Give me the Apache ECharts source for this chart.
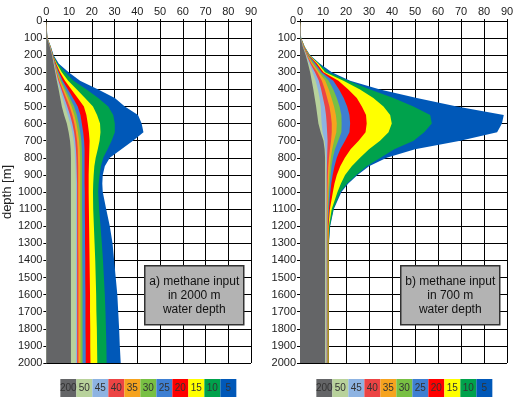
<!DOCTYPE html>
<html>
<head>
<meta charset="utf-8">
<script src="https://cdn.jsdelivr.net/npm/echarts@6/dist/echarts.min.js"></script>
<style>html,body{margin:0;padding:0;background:#fff}#c{width:524px;height:405px}</style>
</head>
<body>
<div id="c"></div>
<script>
// depth levels (m)
const depths = [0,100,150,200,250,300,350,400,450,500,550,600,650,700,750,800,850,900,950,1000,1100,1200,1300,1400,1500,1600,1700,1800,1900,2000];
const xTicks = [0,10,20,30,40,50,60,70,80,90];
const seriesNames = ['200','50','45','40','35','30','25','20','15','10','5'];
const seriesColors = ['#646567','#b8d29b','#8db3e2','#ec4444','#f6a31e','#78c043','#3e7fd2','#ff0000','#ffff00','#00a24c','#0058b8'];

// panel a) methane input in 2000 m water depth
const a200 = [0,0.3,1.5,2.5,3.2,3.9,4.6,5.4,6.1,6.8,7.8,9.0,9.8,10.4,10.7,10.8,10.8,10.8,10.8,10.8,10.8,10.8,10.8,10.8,10.8,10.8,10.8,10.8,10.8,10.8];
const a50  = [0,0.3,1.6,2.6,3.4,4.1,5.0,6.0,7.1,8.2,9.4,10.5,11.4,12.0,12.4,12.6,12.8,12.9,13.0,13.0,13.0,13.0,13.0,13.0,13.0,13.0,13.0,13.0,13.0,13.0];
const a45  = [0,0.3,1.6,2.6,3.5,4.3,5.3,6.6,7.9,9.2,10.4,11.4,12.2,12.7,13.0,13.2,13.3,13.4,13.5,13.5,13.5,13.5,13.5,13.5,13.5,13.5,13.5,13.5,13.5,13.5];
const a40  = [0,0.3,1.7,2.7,3.6,4.5,5.7,7.2,8.7,10.2,11.4,12.3,13.0,13.5,13.8,13.9,14.0,14.0,14.0,14.0,14.0,14.0,14.0,14.1,14.1,14.1,14.1,14.1,14.1,14.1];
const a35  = [0,0.3,1.7,2.7,3.7,4.8,6.1,7.8,9.5,11.1,12.3,13.2,13.9,14.4,14.7,14.8,14.9,14.9,14.9,14.9,14.9,14.9,14.9,15.0,15.0,15.0,15.0,15.0,15.0,15.0];
const a30  = [0,0.3,1.7,2.8,3.8,5.1,6.6,8.5,10.4,12.2,13.4,14.2,14.9,15.4,15.6,15.7,15.7,15.7,15.7,15.7,15.7,15.8,15.8,15.8,15.9,15.9,15.9,15.9,15.9,15.9];
const a25  = [0,0.3,1.8,2.8,4.0,5.5,7.2,9.5,11.7,13.8,15.0,15.6,16.2,16.6,16.8,16.8,16.8,16.8,16.8,16.9,16.9,17.0,17.0,17.1,17.1,17.2,17.2,17.2,17.3,17.3];
const a20  = [0,0.4,1.8,2.9,4.3,6.0,8.2,11.0,13.8,16.5,17.6,18.2,18.7,19.0,18.9,18.8,18.7,18.6,18.6,18.6,18.7,18.8,18.9,19.0,19.1,19.2,19.2,19.3,19.3,19.4];
const a15  = [0,0.4,1.9,2.9,4.6,6.8,9.6,13.4,17.0,20.5,22.3,23.6,23.8,23.4,22.6,21.7,21.1,20.8,20.6,20.5,20.6,20.9,21.2,21.5,21.7,21.9,22.0,22.2,22.3,22.4];
const a10  = [0,0.4,1.9,3.0,5.0,8.3,11.9,17.7,22.8,27.2,29.4,30.1,30.1,28.7,26.9,25.0,24.0,23.4,23.0,22.8,23.2,23.8,24.4,24.9,25.3,25.7,26.0,26.2,26.4,26.5];
const a5   = [0,0.5,2.0,3.2,5.5,9.8,14.8,22.8,30.1,34.5,40.3,41.9,42.7,38.1,33.0,27.9,25.7,24.8,24.6,24.8,26.3,27.9,29.1,29.8,30.5,31.2,31.6,32.0,32.3,32.7];

// panel b) methane input in 700 m water depth
const b200 = [0,0.3,1.2,2.5,3.5,4.4,5.1,5.8,6.4,7.0,7.5,8.0,9.0,10.2,10.7,10.9,10.9,10.9,10.9,10.9,10.9,10.9,10.9,10.9,10.9,10.9,10.9,10.9,10.9,10.9];
const b50  = [0,0.3,1.3,2.7,4.0,5.5,6.8,7.8,8.5,9.0,9.2,9.4,9.8,10.7,11.1,11.3,11.4,11.4,11.4,11.4,11.4,11.4,11.4,11.4,11.4,11.4,11.4,11.4,11.4,11.4];
const b45  = [0,0.3,1.4,2.9,4.5,6.5,8.2,9.2,10.0,10.8,11.3,11.6,11.8,12.0,11.9,11.8,11.7,11.6,11.6,11.6,11.6,11.6,11.6,11.6,11.6,11.6,11.6,11.6,11.6,11.6];
const b40  = [0,0.3,1.5,3.1,5.0,7.5,9.5,10.8,11.8,12.8,13.4,13.8,13.8,13.5,13.0,12.6,12.3,12.1,12.0,11.9,11.8,11.8,11.8,11.8,11.8,11.8,11.8,11.8,11.8,11.8];
const b35  = [0,0.4,1.6,3.3,5.6,8.2,11.0,12.5,13.7,14.8,15.6,16.0,15.8,14.8,14.0,13.4,13.0,12.7,12.5,12.3,12.1,12.0,11.9,11.9,11.9,11.9,11.9,11.9,11.9,11.9];
const b30  = [0,0.4,1.7,3.5,6.2,8.9,12.5,14.5,16.0,17.2,18.0,18.1,18.0,16.6,15.2,14.3,13.7,13.3,13.0,12.7,12.3,12.1,12.0,12.0,12.0,12.0,12.0,12.0,12.0,12.0];
const b25  = [0,0.4,1.8,3.7,6.8,9.5,14.5,17.0,19.0,20.5,21.5,21.8,21.5,19.6,17.5,16.0,15.0,14.2,13.6,13.2,12.6,12.2,12.1,12.1,12.1,12.1,12.1,12.1,12.1,12.1];
const b20  = [0,0.4,1.9,3.9,7.4,10.2,16.7,21.0,24.7,26.9,28.7,29.0,28.5,25.5,22.0,19.5,17.5,16.0,15.0,14.3,13.0,12.4,12.3,12.3,12.3,12.3,12.3,12.3,12.3,12.3];
const b15  = [0,0.4,2.0,4.1,8.0,10.9,18.9,26.1,31.9,36.3,39.2,39.9,38.5,34.8,30.0,26.1,22.5,19.6,17.8,16.3,13.8,12.6,12.4,12.4,12.4,12.4,12.4,12.4,12.4,12.4];
const b10  = [0,0.5,2.0,4.2,8.3,12.3,21.0,30.5,40.6,49.3,56.6,57.3,54.0,49.4,41.0,35.0,29.0,24.5,20.5,17.5,14.5,13.0,12.5,12.5,12.5,12.5,12.5,12.5,12.5,12.5];
const b5   = [0,0.5,2.1,4.4,8.7,13.8,21.8,34.8,50.8,68.2,88.6,87.8,85.7,69.7,50.0,37.7,30.0,25.0,21.0,18.0,14.7,13.1,12.6,12.6,12.6,12.6,12.6,12.6,12.6,12.6];

const panelA = [a200,a50,a45,a40,a35,a30,a25,a20,a15,a10,a5];
const panelB = [b200,b50,b45,b40,b35,b30,b25,b20,b15,b10,b5];
const boxTextA = 'a) methane input\nin 2000 m\nwater depth';
const boxTextB = 'b) methane input\nin 700 m\nwater depth';

const FONT = 'Arial, "Liberation Sans", sans-serif';
const grids = [
  {left: 44, top: 21, width: 207, height: 342, show: false},
  {left: 300, top: 21, width: 207, height: 342, show: false}
];

function makeX(i) {
  return {
    gridIndex: i, type: 'value', position: 'top', min: 0, max: 90, interval: 10,
    axisLine: {show: true, onZero: false, lineStyle: {color: '#000', width: 1}},
    axisTick: {show: true, length: 2, lineStyle: {color: '#000'}},
    axisLabel: {margin: 4, fontSize: 11, color: '#222', fontFamily: FONT},
    splitLine: {show: true, lineStyle: {color: '#000', width: 1}}
  };
}
function makeY(i, withName) {
  const y = {
    gridIndex: i, type: 'value', inverse: true, min: 0, max: 2000, interval: 100,
    axisLine: {show: true, onZero: false, lineStyle: {color: '#000', width: 1}},
    axisTick: {show: true, length: 3, lineStyle: {color: '#000'}},
    axisLabel: {margin: 4, fontSize: 11, color: '#222', fontFamily: FONT, formatter: v => String(v)},
    splitLine: {show: true, lineStyle: {color: '#000', width: 1}}
  };
  if (withName) {
    y.name = 'depth [m]';
    y.nameLocation = 'middle';
    y.nameRotate = 90;
    y.nameGap = 31;
    y.nameTextStyle = {fontSize: 13, color: '#222', fontFamily: FONT};
  }
  return y;
}

function areaSeries(panelIdx, k, xs) {
  const color = seriesColors[k];
  return {
    type: 'custom', name: seriesNames[k],
    coordinateSystem: 'cartesian2d', xAxisIndex: panelIdx, yAxisIndex: panelIdx,
    zlevel: 1, z: 20 - k, silent: true, clip: true,
    data: xs.map((x, i) => [x, depths[i]]),
    renderItem: function (params, api) {
      if (params.dataIndex !== 0) return null;
      const pts = xs.map((x, i) => api.coord([x, depths[i]]));
      pts.push(api.coord([0, depths[depths.length - 1]]));
      pts.push(api.coord([0, depths[0]]));
      return {type: 'polygon', z2: 20 - k, shape: {points: pts}, style: {fill: color, stroke: null}};
    }
  };
}

const series = [];
for (let k = seriesNames.length - 1; k >= 0; k--) series.push(areaSeries(0, k, panelA[k]));
for (let k = seriesNames.length - 1; k >= 0; k--) series.push(areaSeries(1, k, panelB[k]));

function textBox(x, y, txt) {
  return {
    type: 'group', left: x, top: y, zlevel: 2, z: 100,
    children: [
      {type: 'rect', zlevel: 2, z: 100, shape: {x: 0, y: 0, width: 99, height: 59}, style: {fill: '#b3b3b3', stroke: '#333', lineWidth: 1.5}},
      {type: 'text', zlevel: 2, z: 101, x: 49.5, y: 29.5, style: {text: txt, fill: '#111', font: '12px ' + FONT, align: 'center', verticalAlign: 'middle', lineHeight: 14}}
    ]
  };
}
function legendRow(x0, y0) {
  const children = [];
  seriesNames.forEach((n, k) => {
    children.push({type: 'rect', zlevel: 2, z: 100, shape: {x: k * 16, y: 0, width: 16, height: 18}, style: {fill: seriesColors[k]}});
    children.push({type: 'text', zlevel: 2, z: 101, x: k * 16 + 8, y: 9.5, style: {text: n, fill: '#333', font: '10px ' + FONT, align: 'center', verticalAlign: 'middle'}});
  });
  return {type: 'group', left: x0, top: y0, zlevel: 2, z: 100, children};
}

const chart = echarts.init(document.getElementById('c'), null, {renderer: 'canvas'});
chart.setOption({
  animation: false,
  backgroundColor: '#fff',
  grid: grids,
  xAxis: [makeX(0), makeX(1)],
  yAxis: [makeY(0, true), makeY(1, false)],
  series: series,
  graphic: [
    textBox(144, 265, boxTextA),
    textBox(400, 265, boxTextB),
    legendRow(60, 379),
    legendRow(316, 379)
  ]
});
</script>
</body>
</html>
